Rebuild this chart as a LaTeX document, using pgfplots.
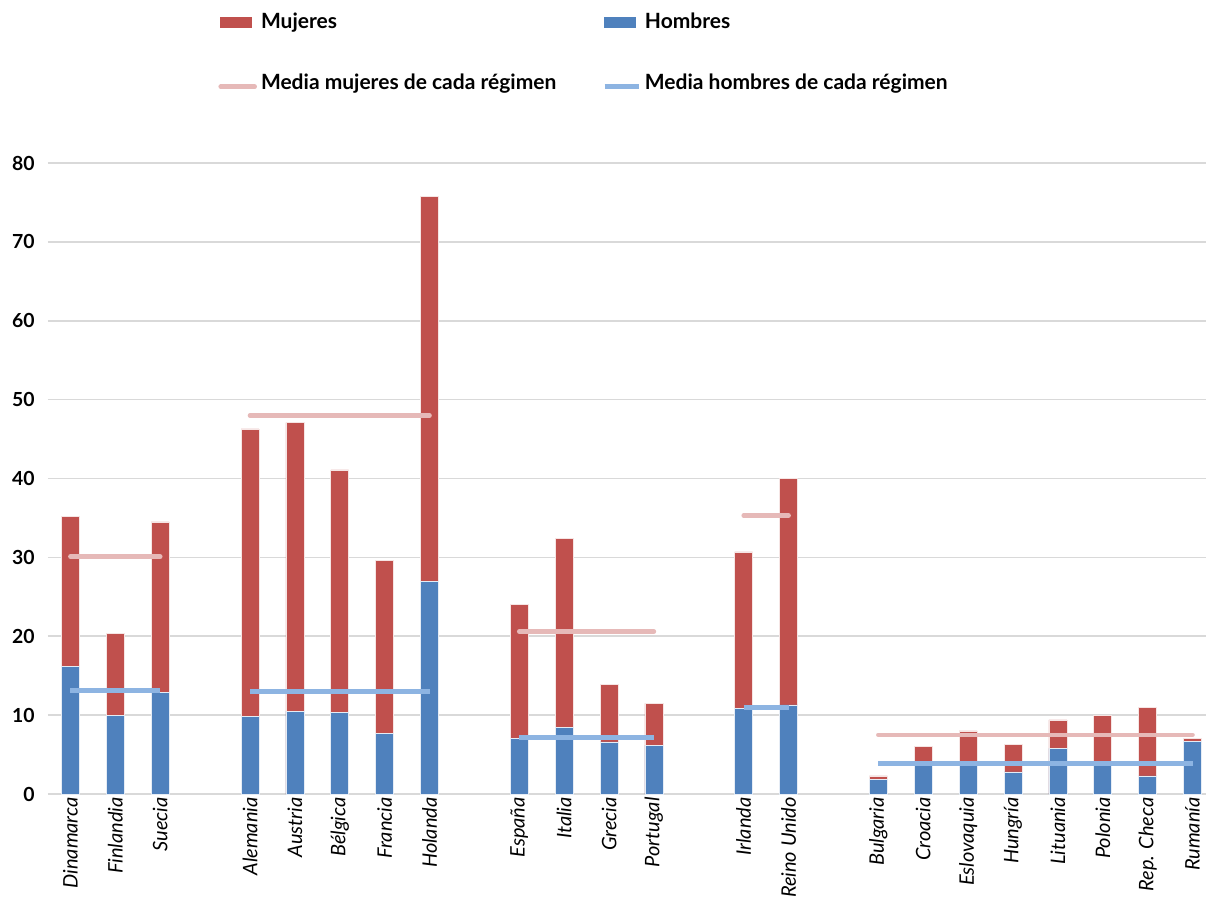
\documentclass[border=0pt]{standalone}
\usepackage{fontspec}
\setmainfont{Lato}
\usepackage{pgfplots}
\usepackage{pgfplotstable}
\pgfplotsset{compat=1.18}
\definecolor{mred}{HTML}{C0504D}
\definecolor{mblue}{HTML}{4F81BD}
\definecolor{lred}{HTML}{E6B9B8}
\definecolor{lblue}{HTML}{8DB4E2}
\definecolor{gridgray}{HTML}{D9D9D9}
\pgfplotstableread{
x  w     m
0  35.2  16.2
1  20.4  10.0
2  34.5  12.9
4  46.3  9.8
5  47.1  10.5
6  41.1  10.3
7  29.6  7.7
8  75.8  27.0
10 24.0  7.1
11 32.4  8.4
12 13.9  6.6
13 11.5  6.2
15 30.7  10.9
16 40.0  11.3
18 2.3   1.9
19 6.0   4.0
20 8.0   4.0
21 6.3   2.8
22 9.4   5.8
23 10.0  4.0
24 11.0  2.3
25 7.0   6.7
}\datatable
\begin{document}
\begin{tikzpicture}
\path[use as bounding box] (-24pt,-54pt) rectangle (579pt,397pt);
\begin{axis}[
  at={(0pt,0pt)}, anchor=south west,
  scale only axis, width=579pt, height=315.5pt,
  xmin=-0.5, xmax=25.3, ymin=0, ymax=80,
  axis line style={draw=none},
  major tick length=0pt,
  ymajorgrids, grid style={gridgray, line width=0.8pt},
  ytick={0,10,...,80},
  xtick={0,1,2,4,5,6,7,8,10,11,12,13,15,16,18,19,20,21,22,23,24,25},
  xticklabels={Dinamarca,Finlandia,Suecia,Alemania,Austria,Bélgica,Francia,Holanda,España,Italia,Grecia,Portugal,Irlanda,Reino Unido,Bulgaria,Croacia,Eslovaquia,Hungría,Lituania,Polonia,Rep. Checa,Rumanía},
  xticklabel style={rotate=90, anchor=east, xshift=0pt, inner sep=1.5pt, font=\itshape\fontsize{10}{11}\selectfont},
  yticklabel style={font=\bfseries\fontsize{9.7}{11}\selectfont, inner sep=0pt, xshift=-6.5pt},
  /pgf/number format/assume math mode=true,
  legend columns=2,
  legend cell align=left,
  legend style={at={(0.1468,1.245)}, anchor=north west, draw=none, fill=none,
    inner sep=0pt, row sep=17pt,
    font=\bfseries\fontsize{10.5}{12}\selectfont,
    /tikz/every even column/.append style={column sep=21pt}},
]
\addplot[ybar, bar width=0.4, bar shift=0pt, fill=mred, draw=white!85!mred, line width=0.3pt,
  legend image code/.code={\fill[mred] (0pt,-2.5pt) rectangle (15.5pt,2.5pt);}]
  table[x=x, y=w]{\datatable};
\addlegendentry{Mujeres}
\addplot[ybar, bar width=0.4, bar shift=0pt, fill=mblue, draw=white!85!mblue, line width=0.3pt,
  legend image code/.code={\fill[mblue] (0pt,-2.5pt) rectangle (15.5pt,2.5pt);}]
  table[x=x, y=m]{\datatable};
\addlegendentry{Hombres}
\addplot[lred, line width=2.3pt, line cap=round, unbounded coords=jump, mark=none,
  legend image code/.code={\draw[lred, line width=2.3pt, line cap=round] (0pt,-2pt)--(17pt,-2pt);}]
  coordinates {(0,30.1)(2,30.1)(3,nan)(4,48.0)(8,48.0)(9,nan)(10,20.6)(13,20.6)(14,nan)(15,35.3)(16,35.3)(17,nan)(18,7.5)(25,7.5)};
\addlegendentry{Media mujeres de cada régimen}
\addplot[lblue, line width=2.3pt, line cap=butt, unbounded coords=jump, mark=none,
  legend image code/.code={\draw[lblue, line width=2.3pt] (0pt,-2pt)--(17pt,-2pt);}]
  coordinates {(0,13.1)(2,13.1)(3,nan)(4,13.0)(8,13.0)(9,nan)(10,7.2)(13,7.2)(14,nan)(15,11.0)(16,11.0)(17,nan)(18,3.9)(25,3.9)};
\addlegendentry{Media hombres de cada régimen}
\end{axis}
\end{tikzpicture}
\end{document}
